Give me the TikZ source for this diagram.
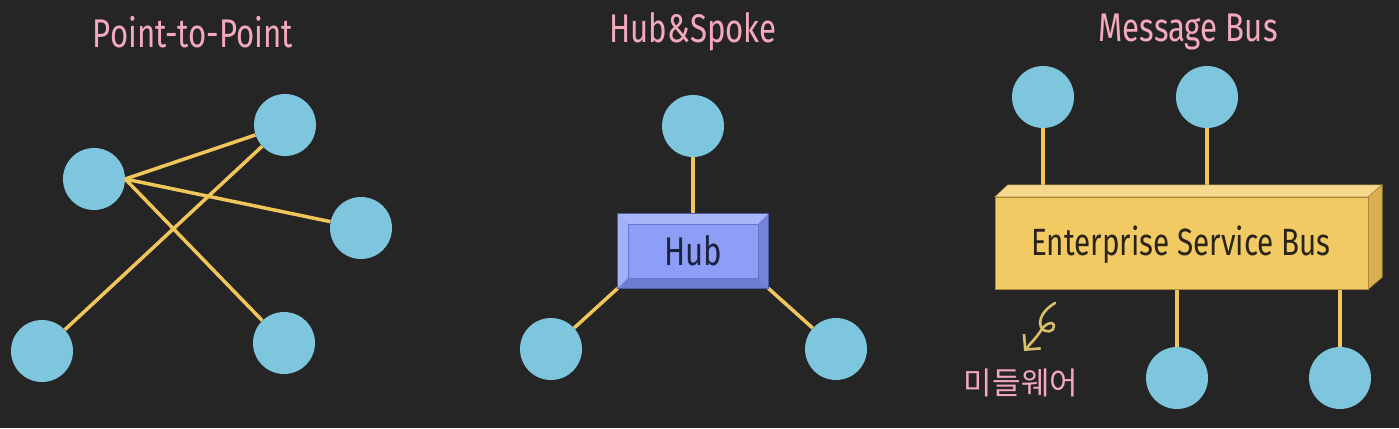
\documentclass[tikz,border=0pt]{standalone}
\usepackage{fontspec}
\setmainfont{Fira Sans}[FakeStretch=0.78]
\newfontfamily\krfont{Noto Sans CJK KR}
\usetikzlibrary{arrows.meta}
\definecolor{bg}{HTML}{252525}
\definecolor{nodeblue}{HTML}{7EC6DE}
\definecolor{lineyel}{HTML}{F0C65A}
\definecolor{titlepink}{HTML}{F4A9BD}
\definecolor{hubface}{HTML}{8E9EF7}
\definecolor{hublight}{HTML}{AAB6FA}
\definecolor{hubdark}{HTML}{6D7DD2}
\definecolor{hubline}{HTML}{4A5AA8}
\definecolor{hubtext}{HTML}{1B2340}
\definecolor{busface}{HTML}{F2CA63}
\definecolor{bustop}{HTML}{F7D88C}
\definecolor{busside}{HTML}{D8B052}
\definecolor{busline}{HTML}{A88838}
\definecolor{bustext}{HTML}{2A2418}
\definecolor{arrowyel}{HTML}{D8C06A}
\tikzset{
  circ/.style={circle, fill=nodeblue, minimum size=62pt, inner sep=0pt},
  link/.style={draw=lineyel, line width=3.5pt},
  title/.style={text=titlepink, font=\fontsize{40}{44}\selectfont, inner sep=0pt},
}
\begin{document}
\begin{tikzpicture}[x=1pt,y=-1pt]
\fill[bg] (0,0) rectangle (1399,428);
\useasboundingbox (0,0) rectangle (1399,428);

% titles
\node[title] (t1) at (193,32) {Point-to-Point};
\node[title] (t2) at (693,32) {Hub\&Spoke};
\node[title] (t3) at (1188,32) {Message Bus};

% Point-to-Point
\node[circ] (a) at (94,179) {};
\node[circ] (b) at (285,125) {};
\node[circ] (c) at (361,228) {};
\node[circ] (d) at (42,351) {};
\node[circ] (e) at (284,343) {};
\draw[link] (a.east) -- (b);
\draw[link] (a.east) -- (c);
\draw[link] (a.east) -- (e);
\draw[link] (d) -- (b);

% Hub & Spoke
\node[circ] (ht) at (693,126) {};
\node[circ] (hl) at (551,349) {};
\node[circ] (hr) at (836,349) {};
\node[minimum width=150pt, minimum height=74pt, inner sep=0pt] (hub) at (693,251) {};
\draw[link] (ht) -- (hub.north);
\draw[link] (hl) -- (hub.south west);
\draw[link] (hr) -- (hub.south east);
\fill[hubface] (hub.north west) rectangle (hub.south east);
\fill[hublight] (hub.north west) -- (hub.north east) -- ([shift={(-10pt,-10pt)}]hub.north east) -- ([shift={(10pt,-10pt)}]hub.north west) -- cycle;
\fill[hublight!80!hubface] (hub.north west) -- ([shift={(10pt,-10pt)}]hub.north west) -- ([shift={(10pt,10pt)}]hub.south west) -- (hub.south west) -- cycle;
\fill[hubdark] (hub.south west) -- (hub.south east) -- ([shift={(-10pt,10pt)}]hub.south east) -- ([shift={(10pt,10pt)}]hub.south west) -- cycle;
\fill[hubdark!80!hubface] (hub.north east) -- (hub.south east) -- ([shift={(-10pt,10pt)}]hub.south east) -- ([shift={(-10pt,-10pt)}]hub.north east) -- cycle;
\draw[hubline, line width=1pt] (hub.north west) rectangle (hub.south east);
\draw[hubline!60!hubface, line width=0.6pt] ([shift={(10pt,-10pt)}]hub.north west) rectangle ([shift={(-10pt,10pt)}]hub.south east);
\node[text=hubtext, font=\fontsize{40}{44}\selectfont, inner sep=0pt] (hubtxt) at (693,251) {Hub};

% Message Bus
\node[circ] (m1) at (1043,97) {};
\node[circ] (m2) at (1207,97) {};
\node[circ] (m3) at (1177,378) {};
\node[circ] (m4) at (1340,378) {};
\node[minimum width=373pt, minimum height=92pt, inner sep=0pt] (bus) at (1181.5,243) {};
\coordinate (busback) at (1008,186);
\draw[link] (m1) -- (m1 |- busback);
\draw[link] (m2) -- (m2 |- busback);
\draw[link] (bus.south -| m3) -- (m3);
\draw[link] (bus.south -| m4) -- (m4);
\fill[bustop, draw=busline, line width=0.6pt] (bus.north west) -- ([shift={(13pt,12pt)}]bus.north west) -- ([shift={(14pt,12pt)}]bus.north east) -- (bus.north east) -- cycle;
\fill[busside, draw=busline, line width=0.6pt] (bus.north east) -- ([shift={(14pt,12pt)}]bus.north east) -- ([shift={(14pt,12pt)}]bus.south east) -- (bus.south east) -- cycle;
\fill[busface, draw=busline, line width=0.6pt] (bus.north west) rectangle (bus.south east);
\node[text=bustext, font=\fontsize{38}{42}\selectfont, inner sep=0pt] (bustxt) at (1181,245) {Enterprise Service Bus};

% middleware note
\node[text=titlepink, font=\krfont\fontsize{31}{34}\selectfont, inner sep=0pt] (mw) at (1021,383) {미들웨어};
\coordinate (arrstart) at (1055,303);
\coordinate (arrtip) at (1024,351);
\draw[arrowyel, line width=2.6pt, line cap=round, line join=round, -{Straight Barb[length=11pt, width=22pt]}]
  (arrstart) .. controls (1043,310) and (1038,320) .. (1041,327)
  .. controls (1044,334) and (1055,332) .. (1054,326)
  .. controls (1053,320) and (1044,324) .. (1040,332)
  .. controls (1036,338) and (1030,344) .. (arrtip);
\end{tikzpicture}
\end{document}
